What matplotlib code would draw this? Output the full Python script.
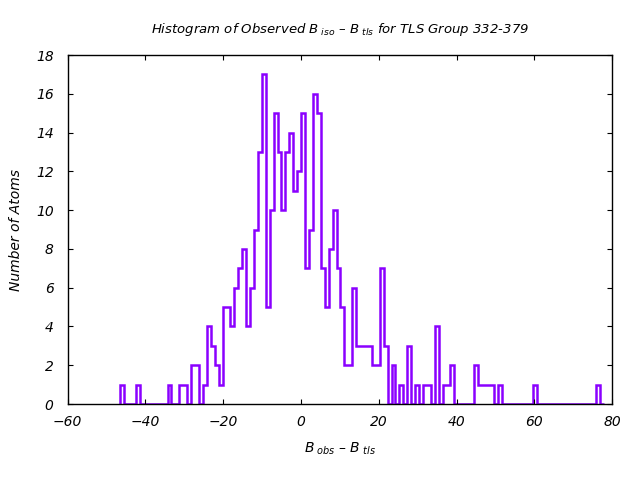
import numpy as np
import matplotlib

matplotlib.use("Agg")
import matplotlib.pyplot as plt

# histogram of B_obs - B_tls, one count per bin (bins ~1.01 wide)
bin_lo = -46.4
bin_width = 1.01
counts = [
    1, 0, 0, 0, 1, 0, 0, 0, 0, 0,      # k 0-9
    0, 0, 1, 0, 0, 1, 1, 0, 2, 2,      # k 10-19
    0, 1, 4, 3, 2, 1, 5, 5, 4, 6,      # k 20-29
    7, 8, 4, 6, 9, 13, 17, 5, 10, 15,  # k 30-39
    13, 10, 13, 14, 11, 12, 15, 7, 9, 16,  # k 40-49
    15, 7, 5, 8, 10, 7, 5, 2, 2, 6,    # k 50-59
    3, 3, 3, 3, 2, 2, 7, 3, 0, 2,      # k 60-69
    0, 1, 0, 3, 0, 1, 0, 1, 1, 0,      # k 70-79
    4, 0, 1, 1, 2, 0, 0, 0, 0, 0,      # k 80-89
    2, 1, 1, 1, 1, 0, 1, 0, 0, 0,      # k 90-99
    0, 0, 0, 0, 0, 1, 0, 0, 0, 0,      # k 100-109
    0, 0, 0, 0, 0, 0, 0, 0, 0, 0,      # k 110-119
    0, 1, 0,                           # k 120-122
]
x_ticks = [-60, -40, -20, 0, 20, 40, 60, 80]
y_ticks = [0, 2, 4, 6, 8, 10, 12, 14, 16, 18]

PURPLE = "#8a00ff"

plt.rcParams.update({
    "font.family": "DejaVu Sans", "font.style": "italic", "font.size": 10,
    "mathtext.default": "it", "mathtext.fontset": "dejavusans",
})

fig = plt.figure(figsize=(6.4, 4.8), dpi=100)
ax = fig.add_axes([0.1055, 0.1583, 0.8509, 0.7271])

edges = bin_lo + bin_width * np.arange(len(counts) + 1)
ax.stairs(counts, edges, baseline=0, color=PURPLE, lw=1.8)

ax.set_xlim(-60, 80)
ax.set_ylim(0, 18)
ax.set_xticks(x_ticks)
ax.set_yticks(y_ticks)
ax.tick_params(direction="in", top=True, right=True, length=3.5, width=0.8)
ax.tick_params(axis="y", pad=10)
ax.tick_params(axis="x", pad=8)
for s in ax.spines.values():
    s.set_linewidth(1.0)
    s.set_color("black")

ax.set_title(r"Histogram of Observed $B_{\ iso}$ – $B_{\ tls}$ for TLS Group 332-379",
             fontsize=9.5, pad=16)
ax.set_xlabel(r"$B_{\ obs}$ – $B_{\ tls}$", labelpad=8)
ax.set_ylabel("Number of Atoms", labelpad=9)

fig.savefig("out.png", dpi=100)
plt.close(fig)
